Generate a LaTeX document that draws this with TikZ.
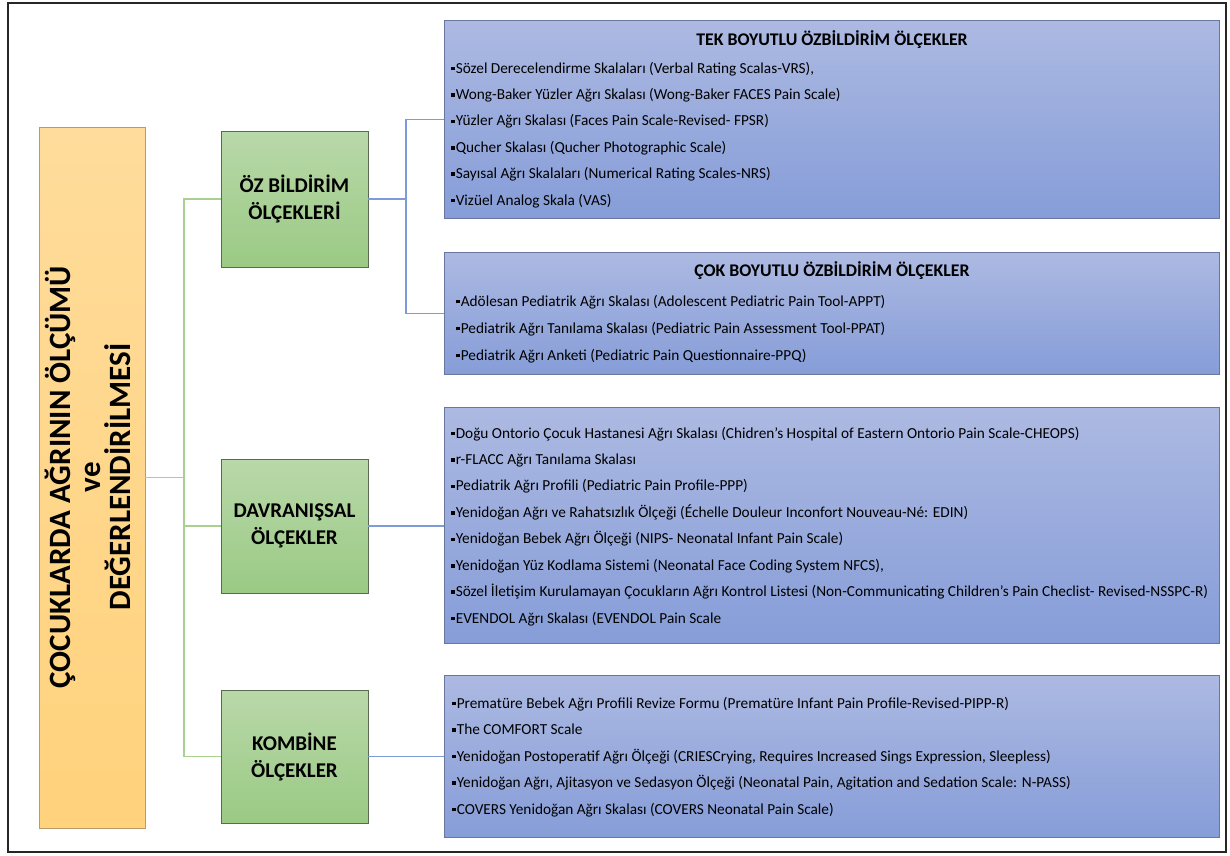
\documentclass[tikz,border=0pt]{standalone}
\usepackage{fontspec}
\setmainfont{Carlito}
\definecolor{blueT}{RGB}{172,185,226}
\definecolor{blueB}{RGB}{134,157,216}
\definecolor{blueD}{RGB}{105,118,160}
\definecolor{greenT}{RGB}{185,216,169}
\definecolor{greenB}{RGB}{154,202,132}
\definecolor{greenD}{RGB}{90,105,82}
\definecolor{orT}{RGB}{255,220,155}
\definecolor{orB}{RGB}{255,210,124}
\definecolor{orD}{RGB}{185,155,105}
\definecolor{glineC}{RGB}{169,209,142}
\definecolor{blineC}{RGB}{125,155,215}
\newcommand\sqb{\rule[2.6pt]{3.6pt}{3.6pt}\hspace{1pt}}
\tikzset{
  bluebox/.style={draw=blueD, line width=1pt, top color=blueT, bottom color=blueB,
    minimum width=775pt, inner sep=0pt, anchor=north west},
  greenbox/.style={draw=greenD, line width=0.8pt, top color=greenT, bottom color=greenB,
    minimum width=147pt, inner sep=0pt, align=center,
    font=\bfseries\fontsize{21}{27}\selectfont},
  orbox/.style={draw=orD, line width=0.8pt, top color=orT, bottom color=orB,
    minimum width=106pt, minimum height=701pt, inner sep=0pt},
  itemtxt/.style={anchor=base west, inner sep=0pt, font=\fontsize{15.3}{17}\selectfont},
  titletxt/.style={anchor=base, inner sep=0pt, font=\bfseries\fontsize{17.8}{20}\selectfont},
  gline/.style={draw=glineC, line width=1.8pt},
  bline/.style={draw=blineC, line width=1.8pt},
}
\begin{document}
\begin{tikzpicture}[x=1pt,y=-1pt]
\useasboundingbox (0,0) rectangle (1230,855);
\draw[line width=1.1pt, draw=black!85] (8,3) rectangle (1226,852);

% left title box
\node[orbox] (org) at (92,477.5) {};
\node[rotate=90, align=center, inner sep=0pt,
  font=\bfseries\fontsize{31}{30}\selectfont] (orgtxt) at (88,477)
  {ÇOCUKLARDA AĞRININ ÖLÇÜMÜ\\ve\\DEĞERLENDİRİLMESİ};

% green boxes
\node[greenbox, minimum height=136pt] (oz) at (294.5,199) {ÖZ BİLDİRİM\\ÖLÇEKLERİ};
\node[greenbox, minimum height=134pt] (dav) at (294.5,526) {DAVRANIŞSAL\\ÖLÇEKLER};
\node[greenbox, minimum height=133pt] (kom) at (294.5,756.5) {KOMBİNE\\ÖLÇEKLER};

% blue boxes
\node[bluebox, minimum height=198pt] (b1) at (444,20) {};
\node[bluebox, minimum height=122pt] (b2) at (444,252) {};
\node[bluebox, minimum height=236pt] (b3) at (444,407) {};
\node[bluebox, minimum height=162pt] (b4) at (444,675) {};

% green connectors
\coordinate (gx) at (184,0);
\draw[gline] (org.east) -- (org.east -| gx);
\draw[gline] (oz.west) -- (oz.west -| gx) -- (kom.west -| gx) -- (kom.west);
\draw[gline] (dav.west) -- (dav.west -| gx);

% blue connectors
\coordinate (bx) at (406,0);
\draw[bline] (oz.east) -- (oz.east -| bx);
\draw[bline] (b1.west) -- (b1.west -| bx) -- (b2.west -| bx) -- (b2.west);
\draw[bline] (dav.east) -- (dav.east -| b3.west);
\draw[bline] (kom.east) -- (kom.east -| b4.west);

% box 1
\node[titletxt] (t1) at (b1.north |- 0,45.5) {TEK BOYUTLU ÖZBİLDİRİM ÖLÇEKLER};
\foreach \t [count=\i from 0] in {
  {Sözel Derecelendirme Skalaları (Verbal Rating Scalas-VRS),},
  {Wong-Baker Yüzler Ağrı Skalası (Wong-Baker FACES Pain Scale)},
  {Yüzler Ağrı Skalası (Faces Pain Scale-Revised- FPSR)},
  {Qucher Skalası (Qucher Photographic Scale)},
  {Sayısal Ağrı Skalaları (Numerical Rating Scales-NRS)},
  {Vizüel Analog Skala (VAS)}}
  \node[itemtxt] (b1i\i) at (451,73+26.4*\i) {\sqb\t};

% box 2
\node[titletxt] (t2) at (b2.north |- 0,276) {ÇOK BOYUTLU ÖZBİLDİRİM ÖLÇEKLER};
\foreach \t [count=\i from 0] in {
  {Adölesan Pediatrik Ağrı Skalası (Adolescent Pediatric Pain Tool-APPT)},
  {Pediatrik Ağrı Tanılama Skalası (Pediatric Pain Assessment Tool-PPAT)},
  {Pediatrik Ağrı Anketi (Pediatric Pain Questionnaire-PPQ)}}
  \node[itemtxt] (b2i\i) at (456,306+27*\i) {\sqb\t};

% box 3
\foreach \t [count=\i from 0] in {
  {Doğu Ontorio Çocuk Hastanesi Ağrı Skalası (Chidren’s Hospital of Eastern Ontorio Pain Scale-CHEOPS)},
  {r-FLACC Ağrı Tanılama Skalası},
  {Pediatrik Ağrı Profili (Pediatric Pain Profile-PPP)},
  {Yenidoğan Ağrı ve Rahatsızlık Ölçeği (Échelle Douleur Inconfort Nouveau-Né: EDIN)},
  {Yenidoğan Bebek Ağrı Ölçeği (NIPS- Neonatal Infant Pain Scale)},
  {Yenidoğan Yüz Kodlama Sistemi (Neonatal Face Coding System NFCS),},
  {Sözel İletişim Kurulamayan Çocukların Ağrı Kontrol Listesi (Non-Communicating Children’s Pain Checlist- Revised-NSSPC-R)},
  {EVENDOL Ağrı Skalası (EVENDOL Pain Scale}}
  \node[itemtxt] (b3i\i) at (451,438+26.43*\i) {\sqb\t};

% box 4
\foreach \t [count=\i from 0] in {
  {Prematüre Bebek Ağrı Profili Revize Formu (Prematüre Infant Pain Profile-Revised-PIPP-R)},
  {The COMFORT Scale},
  {Yenidoğan Postoperatif Ağrı Ölçeği (CRIESCrying, Requires Increased Sings Expression, Sleepless)},
  {Yenidoğan Ağrı, Ajitasyon ve Sedasyon Ölçeği (Neonatal Pain, Agitation and Sedation Scale: N-PASS)},
  {COVERS Yenidoğan Ağrı Skalası (COVERS Neonatal Pain Scale)}}
  \node[itemtxt] (b4i\i) at (452,708+26.5*\i) {\sqb\t};
\end{tikzpicture}
\end{document}
